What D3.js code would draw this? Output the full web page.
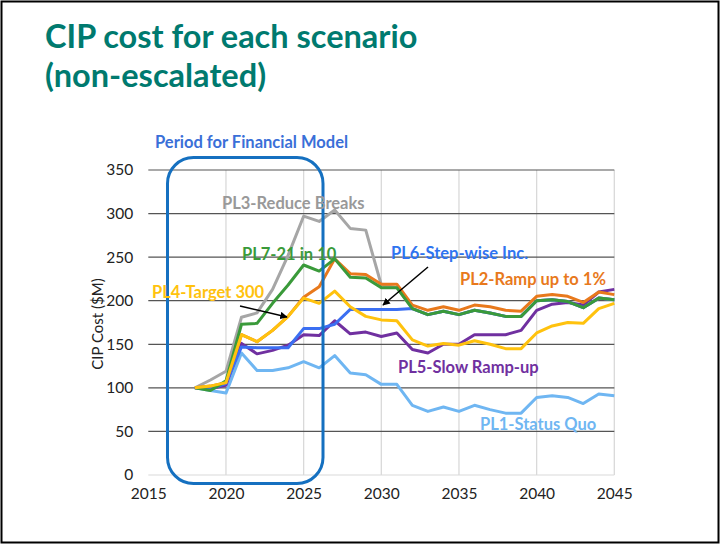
<!DOCTYPE html>
<html><head><meta charset="utf-8">
<script src="https://cdn.jsdelivr.net/npm/d3@7"></script>
<style>body{margin:0;background:#fff}svg{display:block}</style>
</head><body><svg id="c" width="720" height="544"></svg>
<script>
const years = [2018,2019,2020,2021,2022,2023,2024,2025,2026,2027,2028,2029,2030,2031,2032,2033,2034,2035,2036,2037,2038,2039,2040,2041,2042,2043,2044,2045];
const pl1 = [100,97,94,140,120,120,123,130,123,137,117,115,104,104,80,73,78,73,80,75,71,71,89,91,89,82,93,91];
const pl2 = [100,102,106,161,153,166,182,204,216,248,231,230,219,219,195,189,193,189,195,193,189,188,205,207,205,198,210,207];
const pl3 = [100,109,119,181,186,213,252,297,291,304,283,281,218,215,191,184,188,184,189,186,182,182,200,201,199,192,203,201];
const pl4 = [100,102,106,161,153,166,182,203,197,211,193,182,178,177,155,148,151,149,154,150,145,145,163,171,175,174,191,197];
const pl5 = [100,99,103,151,139,143,149,161,160,177,162,164,159,163,144,140,150,150,161,161,161,166,189,196,198,195,210,213];
const pl6 = [100,99,105,147,146,146,146,168,168,173,190,190,190,190,191,184,188,184,189,186,182,182,200,201,199,192,203,201];
const pl7 = [100,97,108,173,174,197,218,241,234,248,227,226,215,215,191,184,188,184,189,186,182,182,200,201,199,192,203,201];
const yTicks = [0,50,100,150,200,250,300,350];
const xTicks = [2015,2020,2025,2030,2035,2040,2045];
const seriesNames = ["PL3-Reduce Breaks","PL1-Status Quo","PL5-Slow Ramp-up","PL6-Step-wise Inc.","PL2-Ramp up to 1%","PL7-21 in 10","PL4-Target 300"];
const seriesValues = [pl3,pl1,pl5,pl6,pl2,pl7,pl4];
const seriesColors = ["#a6a6a6","#6fb6f2","#7030a0","#3b6ff2","#e8791c","#3a9a3a","#ffc20e"];

const svg = d3.select("#c");
const font = "Lato, 'Open Sans', sans-serif";
svg.append("rect").attr("x",1.5).attr("y",1.5).attr("width",717).attr("height",541)
  .attr("fill","#fff").attr("stroke","#000").attr("stroke-width",2);

svg.append("text").attr("x",45).attr("y",48).attr("fill","#007a6f")
  .attr("font-family",font).attr("font-weight","bold").attr("font-size",32.5)
  .text("CIP cost for each scenario");
svg.append("text").attr("x",45).attr("y",87).attr("fill","#007a6f")
  .attr("font-family",font).attr("font-weight","bold").attr("font-size",32.5)
  .text("(non-escalated)");

const x = d3.scaleLinear().domain([2015,2045]).range([148.3,614.3]);
const y = d3.scaleLinear().domain([0,350]).range([475,170]);

const g = svg.append("g");
g.selectAll(".vg").data(xTicks.slice(1)).join("line")
  .attr("x1",d=>x(d)).attr("x2",d=>x(d)).attr("y1",y(350)).attr("y2",y(0))
  .attr("stroke","#d9d9d9").attr("stroke-width",1.3);
g.selectAll(".hg").data(yTicks).join("line")
  .attr("x1",x(2015)).attr("x2",x(2045)).attr("y1",d=>y(d)).attr("y2",d=>y(d))
  .attr("stroke",d=>d===0?"#d9d9d9":"#555").attr("stroke-width",1.2);

const yAxis = d3.axisLeft(y).tickValues(yTicks).tickSize(0).tickPadding(15);
const ya = svg.append("g").attr("transform",`translate(${x(2015)},0)`).call(yAxis);
ya.select(".domain").remove();
ya.selectAll("text").attr("font-family",font).attr("font-size",15.5).attr("fill","#222");
const xAxis = d3.axisBottom(x).tickValues(xTicks).tickFormat(d3.format("d")).tickSize(0).tickPadding(13);
const xa = svg.append("g").attr("transform",`translate(0,${y(0)})`).call(xAxis);
xa.select(".domain").remove();
xa.selectAll("text").attr("font-family",font).attr("font-size",15.5).attr("fill","#222");

svg.append("text").attr("transform","translate(103,324) rotate(-90)").attr("text-anchor","middle")
  .attr("font-family",font).attr("font-size",15).attr("fill","#222").text("CIP Cost ($M)");

const line = d3.line().x((d,i)=>x(years[i])).y(d=>y(d));
svg.selectAll(".ser").data(seriesValues).join("path")
  .attr("d",d=>line(d)).attr("fill","none")
  .attr("stroke",(d,i)=>seriesColors[i]).attr("stroke-width",3).attr("stroke-linejoin","round");

svg.append("rect").attr("x",167.5).attr("y",157.5).attr("width",155.5).attr("height",326)
  .attr("rx",26).attr("ry",26).attr("fill","none").attr("stroke","#1570c0").attr("stroke-width",3);
svg.append("text").attr("x",155).attr("y",148).attr("font-family",font).attr("font-weight","bold")
  .attr("font-size",16.5).attr("fill","#3a6fd8").text("Period for Financial Model");

const labels = [
  {t:"PL3-Reduce Breaks", x:222, y:209, c:"#999999"},
  {t:"PL7-21 in 10", x:242, y:260, c:"#3a9a3a"},
  {t:"PL6-Step-wise Inc.", x:391, y:259, c:"#2f74f0"},
  {t:"PL2-Ramp up to 1%", x:460, y:285, c:"#e8791c"},
  {t:"PL4-Target 300", x:152, y:298, c:"#ffc20e"},
  {t:"PL5-Slow Ramp-up", x:398, y:373, c:"#7030a0"},
  {t:"PL1-Status Quo", x:480, y:430, c:"#6fb6f2"}
];
svg.selectAll(".lab").data(labels).join("text")
  .attr("x",d=>d.x).attr("y",d=>d.y).attr("fill",d=>d.c)
  .attr("font-family",font).attr("font-weight","bold").attr("font-size",16.5).text(d=>d.t);

const defs = svg.append("defs");
defs.append("marker").attr("id","ah").attr("viewBox","0 0 10 10").attr("refX",9).attr("refY",5)
  .attr("markerWidth",5).attr("markerHeight",5).attr("orient","auto")
  .append("path").attr("d","M0,0L10,5L0,10z").attr("fill","#000");
svg.append("line").attr("x1",240).attr("y1",306).attr("x2",287).attr("y2",317)
  .attr("stroke","#000").attr("stroke-width",1.5).attr("marker-end","url(#ah)");
svg.append("line").attr("x1",428).attr("y1",267).attr("x2",383).attr("y2",305)
  .attr("stroke","#000").attr("stroke-width",1.5).attr("marker-end","url(#ah)");
</script></body></html>
